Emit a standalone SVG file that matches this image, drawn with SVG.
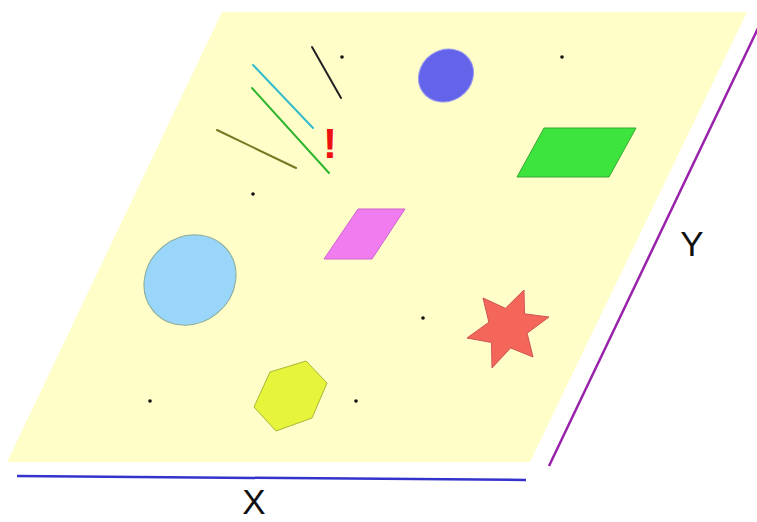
<svg xmlns="http://www.w3.org/2000/svg" width="757" height="522" viewBox="0 0 757 522">
<style>
.dot{fill:#111}
.seg{stroke-width:2;fill:none;stroke-linecap:round}
.lbl{font-family:"Liberation Sans",Arial,sans-serif;font-size:35px;fill:#111;text-anchor:middle}
</style>
<rect width="757" height="522" fill="#ffffff"/>
<g id="plane">
<polygon points="222,12 747,12 530,462 7,462" fill="#fffdc8"/>
</g>
<g id="axes">
<line x1="17" y1="476" x2="526" y2="480" stroke="#3333cc" stroke-width="2.5"/>
<line x1="549" y1="466" x2="760" y2="24" stroke="#9922aa" stroke-width="2.5"/>
<text class="lbl" x="254" y="514">X</text>
<text class="lbl" x="692" y="256">Y</text>
</g>
<g id="lines">
<line class="seg" x1="312" y1="47" x2="341" y2="98" stroke="#222222"/>
<line class="seg" x1="253" y1="65" x2="313" y2="128" stroke="#33bbcc"/>
<line class="seg" x1="252" y1="88" x2="329" y2="173" stroke="#2fb52f"/>
<line class="seg" x1="217" y1="130" x2="296" y2="168" stroke="#777722"/>
</g>
<g id="exclaim">
<text x="330" y="158" font-family="Liberation Sans,Arial,sans-serif" font-size="42" font-weight="bold" fill="#ee1111" text-anchor="middle">!</text>
</g>
<g id="dots">
<circle class="dot" cx="342" cy="57" r="1.8"/>
<circle class="dot" cx="562" cy="57" r="1.8"/>
<circle class="dot" cx="253" cy="194" r="1.8"/>
<circle class="dot" cx="423" cy="318" r="1.8"/>
<circle class="dot" cx="150" cy="401" r="1.8"/>
<circle class="dot" cx="356" cy="401" r="1.8"/>
</g>
<g id="blue-ellipse">
<ellipse cx="446" cy="75.5" rx="28.5" ry="25.5" transform="rotate(-35 446 75.5)" fill="#6464ea" stroke="#9a9af0" stroke-width="1"/>
</g>
<g id="green-parallelogram">
<polygon points="544,128 636,128 609,177 517,177" fill="#3ee43e" stroke="#33aa33" stroke-width="1"/>
</g>
<g id="pink-parallelogram">
<polygon points="358,209 405,209 372,259 324,259" fill="#f07cf0" stroke="#cc66cc" stroke-width="1"/>
</g>
<g id="lightblue-ellipse">
<ellipse cx="190" cy="280" rx="48" ry="43" transform="rotate(-40 190 280)" fill="#99d6fa" stroke="#88aa99" stroke-width="1"/>
</g>
<g id="star">
<polygon points="524,290 524.5,313.8 549,317 527.1,333.2 533,357 510.6,347.9 492,368 491.5,342.5 467,338 488.9,322.2 483,298 505.4,308.3" fill="#f4665a" stroke="#cc5555" stroke-width="1"/>
</g>
<g id="hexagon">
<polygon points="306,361 327,383 312,418 276,431 254,407 270,372" fill="#e6f53c" stroke="#aab833" stroke-width="1"/>
</g>
</svg>
